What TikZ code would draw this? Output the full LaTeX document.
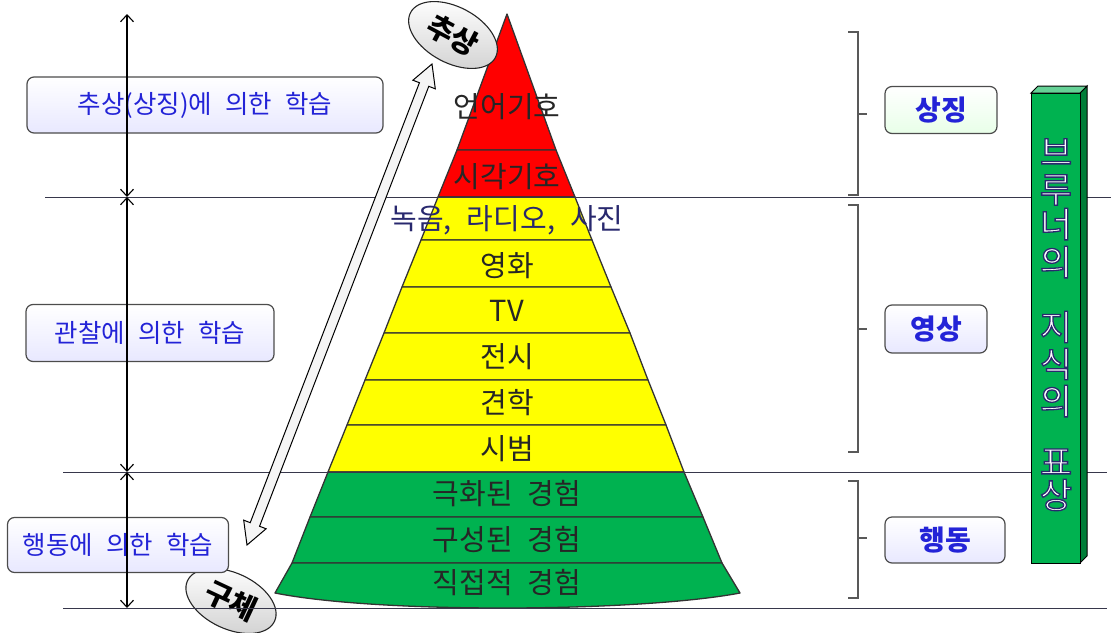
\documentclass[tikz,border=0pt]{standalone}
\usepackage{fontspec}
\newfontfamily\kr{Noto Sans CJK KR}[WordSpace=2.3]
\usetikzlibrary{arrows.meta, shapes.geometric, calc}

\definecolor{bandred}{RGB}{255,0,0}
\definecolor{bandyellow}{RGB}{255,255,0}
\definecolor{bandgreen}{RGB}{0,178,80}
\definecolor{labelblue}{RGB}{35,35,215}
\definecolor{rulegray}{RGB}{55,55,75}
\definecolor{outlinenavy}{RGB}{40,40,110}

% bevelled band fills (bottom dark, top light)
\pgfdeclareverticalshading{redbevel}{100bp}{color(0bp)=(bandred!65!black); color(10bp)=(bandred); color(90bp)=(bandred); color(100bp)=(bandred!60!white)}
\pgfdeclareverticalshading{yellowbevel}{100bp}{color(0bp)=(bandyellow!60!black); color(10bp)=(bandyellow); color(90bp)=(bandyellow); color(100bp)=(bandyellow!50!white)}
\pgfdeclareverticalshading{greenbevel}{100bp}{color(0bp)=(bandgreen!55!black); color(10bp)=(bandgreen); color(90bp)=(bandgreen); color(100bp)=(bandgreen!45!white)}

% hollow letters: white fill, navy outline
\newcommand{\hollow}[1]{\special{pdf:literal direct q 2 Tr 1.3 w 0.16 0.16 0.43 RG}#1\special{pdf:literal direct Q}}

\begin{document}
\begin{tikzpicture}[
    x=1pt, y=-1pt,
    bandshape/.style={draw=black!80, line width=1.3pt, line join=round},
    bandtext/.style={font=\kr\fontsize{29}{32}\selectfont, text=black!85},
    learnbox/.style={draw=black!70, line width=1.2pt, rounded corners=7pt, top color=white, bottom color=blue!9, text=labelblue, font=\kr\fontsize{25.5}{28}\selectfont, inner sep=0pt},
    levelbox/.style={learnbox, font=\kr\bfseries\fontsize{28}{30}\selectfont},
    tagoval/.style={ellipse, draw=black!85, line width=1.1pt, top color=white, bottom color=gray!35, font=\kr\bfseries\fontsize{29}{31}\selectfont, minimum width=96pt, minimum height=56pt, inner sep=0pt},
    spanarrow/.style={{Straight Barb[length=7pt,width=13pt]}-{Straight Barb[length=7pt,width=13pt]}, line width=1.1pt},
    hline/.style={draw=rulegray, line width=1pt},
    bracket/.style={draw=black!65, line width=1.1pt},
    barchar/.style={font=\kr\fontsize{35}{37}\selectfont, text=white},
]
    \useasboundingbox (0,0) rectangle (1111,632);

    % Pyramid bands
    \draw[bandshape, shading=redbevel] (507,14) -- (556,150) -- (457,150) -- cycle;
    \draw[bandshape, shading=redbevel] (457,150) -- (556,150) -- (575,197) -- (438,197) -- cycle;
    \draw[bandshape, shading=yellowbevel] (438,197) -- (575,197) -- (592,240) -- (421,240) -- cycle;
    \draw[bandshape, shading=yellowbevel] (421,240) -- (592,240) -- (611,287) -- (402,287) -- cycle;
    \draw[bandshape, shading=yellowbevel] (402,287) -- (611,287) -- (630,333) -- (384,333) -- cycle;
    \draw[bandshape, shading=yellowbevel] (384,333) -- (630,333) -- (648,380) -- (365,380) -- cycle;
    \draw[bandshape, shading=yellowbevel] (365,380) -- (648,380) -- (666,425) -- (347,425) -- cycle;
    \draw[bandshape, shading=yellowbevel] (347,425) -- (666,425) -- (684,472) -- (328,472) -- cycle;
    \draw[bandshape, shading=greenbevel] (328,472) -- (684,472) -- (703,517) -- (310,517) -- cycle;
    \draw[bandshape, shading=greenbevel] (310,517) -- (703,517) -- (722,563) -- (292,563) -- cycle;
    \draw[bandshape, shading=greenbevel] (292,563) -- (722,563) -- (740,593)
        .. controls (640,612) and (380,614) .. (275,593) -- cycle;

    % Pyramid labels
    \node[bandtext] (lang)  at (507,107) {언어기호};
    \node[bandtext] (sign)  at (507,177) {시각기호};
    \node[bandtext, text=outlinenavy] (radio) at (507,220) {녹음, 라디오, 사진};
    \node[bandtext] (film)  at (507,266) {영화};
    \node[bandtext] (tv)    at (507,311) {TV};
    \node[bandtext] (expo)  at (507,357) {전시};
    \node[bandtext] (trip)  at (507,403) {견학};
    \node[bandtext] (demo)  at (507,449) {시범};
    \node[bandtext] (drama) at (507,494) {극화된 경험};
    \node[bandtext] (model) at (507,540) {구성된 경험};
    \node[bandtext] (direct) at (507,583) {직접적 경험};

    % Horizontal rules
    \coordinate (r1a) at (45,197);  \coordinate (r1b) at (1111,197);
    \coordinate (r2a) at (63,472);  \coordinate (r2b) at (1107,472);
    \coordinate (r3a) at (63,608);  \coordinate (r3b) at (1107,608);
    \draw[hline] (r1a) -- (r1b);
    \draw[hline] (r2a) -- (r2b);

    % Abstract / concrete tags
    \node[tagoval, rotate=-28] (abs) at (453,35) {추상};
    \node[tagoval, rotate=-25] (con) at (231,601) {구체};
    \draw[hline] (r3a) -- (r3b);

    % Hollow double arrow
    \coordinate (lo) at (247,545);
    \coordinate (hi) at (432,64);
    \draw[line width=1pt, fill=gray!8, line join=miter]
        (hi) -- ($(hi)!22pt!(lo)!12pt!90:(lo)$) -- ($(hi)!22pt!(lo)!5pt!90:(lo)$)
        -- ($(lo)!22pt!(hi)!5pt!-90:(hi)$) -- ($(lo)!22pt!(hi)!12pt!-90:(hi)$)
        -- (lo) -- ($(lo)!22pt!(hi)!12pt!90:(hi)$) -- ($(lo)!22pt!(hi)!5pt!90:(hi)$)
        -- ($(hi)!22pt!(lo)!5pt!-90:(lo)$) -- ($(hi)!22pt!(lo)!12pt!-90:(lo)$) -- cycle;

    % Learning boxes
    \node[learnbox, minimum width=356pt, minimum height=56pt] (symb) at (205,105) {추상(상징)에 의한 학습};
    \node[learnbox, minimum width=248pt, minimum height=57pt] (obs)  at (150,333) {관찰에 의한 학습};
    \node[learnbox, minimum width=221pt, minimum height=55pt] (act)  at (118,545) {행동에 의한 학습};

    % Span arrows
    \coordinate (s0) at (127,14);
    \coordinate (s1) at (127,197);
    \coordinate (s2) at (127,472);
    \coordinate (s3) at (127,608);
    \draw[spanarrow] (s0) -- (s1);
    \draw[spanarrow] (s1) -- (s2);
    \draw[spanarrow] (s2) -- (s3);

    % Brackets
    \draw[bracket] (848,32) -- (858,32) -- (858,195) -- (848,195);
    \draw[bracket] (858,114) -- (867,114);
    \draw[bracket] (848,205) -- (858,205) -- (858,452) -- (848,452);
    \draw[bracket] (858,329) -- (867,329);
    \draw[bracket] (848,481) -- (858,481) -- (858,598) -- (848,598);
    \draw[bracket] (858,538) -- (867,538);

    % Level boxes
    \node[levelbox, bottom color=green!9, minimum width=112pt, minimum height=47pt] (sym) at (941,110) {상징};
    \node[levelbox, minimum width=102pt, minimum height=48pt] (ico) at (936,329) {영상};
    \node[levelbox, minimum width=120pt, minimum height=46pt] (enact) at (945,540) {행동};

    % Bruner bar
    \draw[line width=1pt, fill=bandgreen!70!black] (1080,93) -- (1087,86) -- (1087,556) -- (1080,563) -- cycle;
    \draw[line width=1pt, fill=bandgreen!60!white] (1031,93) -- (1038,86) -- (1087,86) -- (1080,93) -- cycle;
    \draw[line width=1pt, fill=bandgreen] (1031,93) rectangle (1080,563);
    \foreach \ch/\yy [count=\i] in {브/152, 루/190, 너/224, 의/262, 지/327, 식/364, 의/401, 표/462, 상/495}
        \node[barchar] (bar\i) at (1056,\yy) {\hollow{\ch}};

\end{tikzpicture}
\end{document}
